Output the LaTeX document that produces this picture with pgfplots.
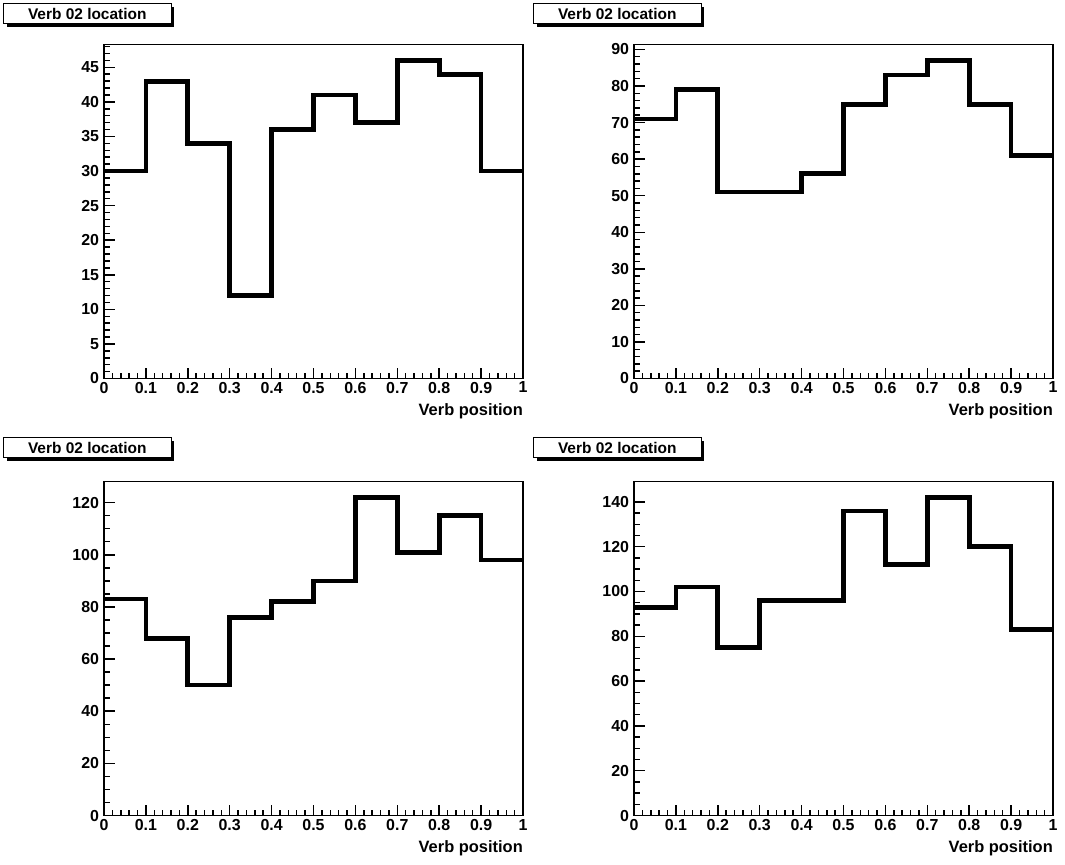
\documentclass[border=0pt]{standalone}
\usepackage{fontspec}
\setmainfont{Liberation Sans}
\usepackage{pgfplots}
\pgfplotsset{compat=1.18}

% ROOT-like histogram pad
\pgfplotsset{
  rootpad/.style={
    scale only axis, width=419bp, height=334bp,
    anchor=south west,
    xmin=0, xmax=1, ymin=0,
    xtick={0,0.1,0.2,0.3,0.4,0.5,0.6,0.7,0.8,0.9,1},
    minor x tick num=4,
    tick align=inside, tick pos=left,
    axis line style={line width=1.4bp},
    every tick/.style={black, line width=1.5bp},
    major tick length=11bp, minor tick length=5.5bp,
    /pgf/number format/assume math mode=true,
    tick label style={font=\fontsize{16}{16}\selectfont\bfseries},
    yticklabel style={xshift=-1.5bp},
    xlabel={Verb position},
    every axis x label/.style={at={(rel axis cs:1,0)}, anchor=base east,
      inner sep=0pt, yshift=-36.5bp, font=\fontsize{16.5}{16.5}\selectfont\bfseries},
  },
  histo/.style={const plot, black, line width=4.7bp, line join=miter},
}

\newcommand{\titlebox}[2]{%
  \fill[black] (#1+3,#2-3) rectangle (#1+170.5,#2-23);
  \filldraw[fill=white, draw=black, line width=1bp] (#1,#2) rectangle (#1+167.5,#2-20);
  \node[font=\fontsize{15.5}{15.5}\selectfont\bfseries] at (#1+83.75,#2-10) {Verb 02 location};
}

\begin{document}
\begin{tikzpicture}[x=1bp, y=1bp]
\useasboundingbox (0,0) rectangle (1065,-865);

\titlebox{3.5}{-3.5}
\titlebox{533.5}{-3.5}
\titlebox{3.5}{-437.5}
\titlebox{533.5}{-437.5}

\begin{axis}[rootpad, at={(104bp,-378.5bp)}, ymax=48.3,
  ytick distance=5, minor y tick num=4]
\addplot[histo] coordinates {(0,30) (0.1,43) (0.2,34) (0.3,12) (0.4,36)
  (0.5,41) (0.6,37) (0.7,46) (0.8,44) (0.9,30) (1,30)};
\end{axis}

\begin{axis}[rootpad, at={(634bp,-378.5bp)}, ymax=91.35,
  ytick distance=10, minor y tick num=4]
\addplot[histo] coordinates {(0,71) (0.1,79) (0.2,51) (0.3,51) (0.4,56)
  (0.5,75) (0.6,83) (0.7,87) (0.8,75) (0.9,61) (1,61)};
\end{axis}

\begin{axis}[rootpad, at={(104bp,-815.5bp)}, ymax=128.1,
  ytick distance=20, minor y tick num=3]
\addplot[histo] coordinates {(0,83) (0.1,68) (0.2,50) (0.3,76) (0.4,82)
  (0.5,90) (0.6,122) (0.7,101) (0.8,115) (0.9,98) (1,98)};
\end{axis}

\begin{axis}[rootpad, at={(634bp,-815.5bp)}, ymax=149.1,
  ytick distance=20, minor y tick num=3]
\addplot[histo] coordinates {(0,93) (0.1,102) (0.2,75) (0.3,96) (0.4,96)
  (0.5,136) (0.6,112) (0.7,142) (0.8,120) (0.9,83) (1,83)};
\end{axis}
\end{tikzpicture}
\end{document}
